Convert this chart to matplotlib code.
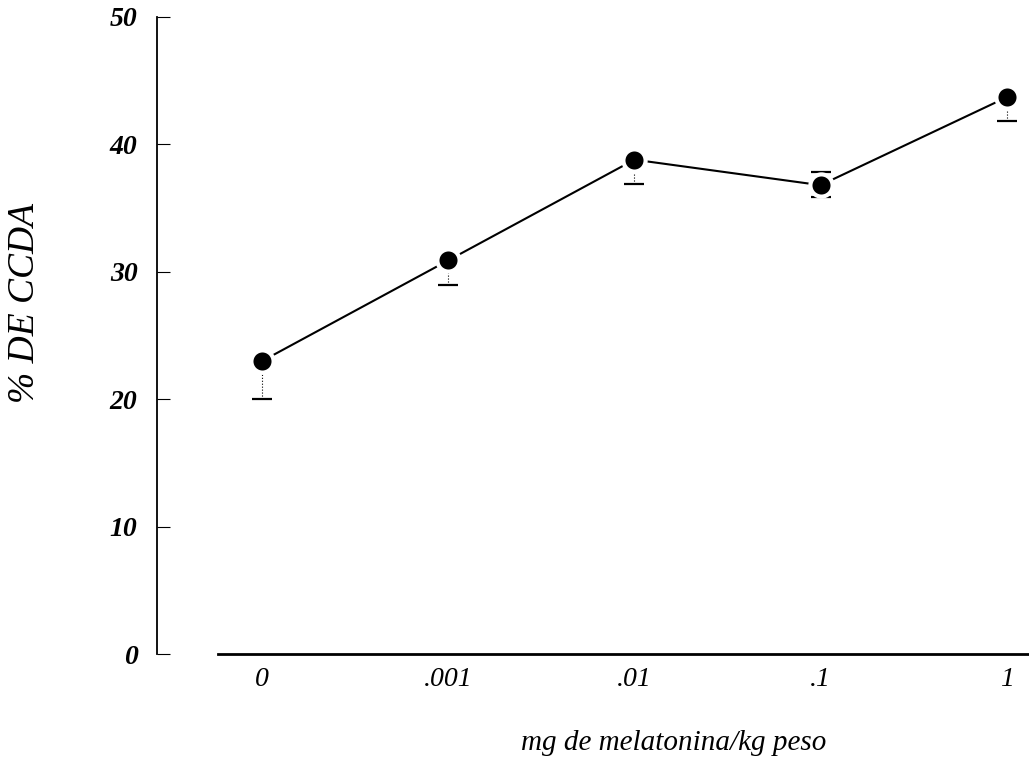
import numpy as np
import matplotlib.pyplot as plt

# dosis de melatonina y % de CCDA (media y errores)
dosis = ["0", ".001", ".01", ".1", "1"]
ccda = [23.0, 30.9, 38.8, 36.8, 43.7]
err_inf = [3.0, 1.9, 1.9, 0.9, 1.9]
err_sup = [0.0, 0.0, 0.0, 1.0, 0.0]

plt.rcParams['font.family'] = ['Liberation Serif', 'DejaVu Serif']

fig = plt.figure(figsize=(10.29, 7.69), dpi=100)
ax = fig.add_axes([0.1526, 0.1495, 0.8474, 0.8284])

x = np.arange(len(dosis))

# barras de error: tallo punteado y tope
eb = ax.errorbar(x, ccda, yerr=[err_inf, err_sup], fmt='none', ecolor='black',
                 elinewidth=0.8, capsize=7, capthick=1.6, zorder=1)
for col in eb[2]:
    col.set_linestyle(':')

ax.plot(x, ccda, color='black', linewidth=1.5, zorder=2)
ax.plot(x, ccda, linestyle='none', marker='o', markersize=16,
        markerfacecolor='black', markeredgecolor='white',
        markeredgewidth=3, zorder=3)

ax.set_xlim(-0.565, 4.12)
ax.set_ylim(0, 50)

for side in ['top', 'right', 'bottom']:
    ax.spines[side].set_visible(False)
ax.spines['left'].set_linewidth(1.3)
ax.axhline(0, xmin=0.07, xmax=1.0, color='black', linewidth=2, clip_on=False)

ax.set_yticks(np.arange(0, 51, 10))
ax.tick_params(axis='y', direction='in', length=9, width=0.8, pad=14,
               labelsize=20)
ax.set_xticks(x)
ax.set_xticklabels(dosis)
ax.tick_params(axis='x', length=0, pad=9, labelsize=20)
for lab in ax.get_xticklabels():
    lab.set_fontstyle('italic')
for lab in ax.get_yticklabels():
    lab.set_fontstyle('italic')
    lab.set_fontweight('bold')

fig.text(0.024, 0.606, "% DE CCDA", rotation=90, ha='center', va='center',
         fontsize=27, fontstyle='italic')
fig.text(0.655, 0.025, "mg de melatonina/kg peso", ha='center',
         va='baseline', fontsize=21, fontstyle='italic')

fig.savefig("out.png", dpi=100)
